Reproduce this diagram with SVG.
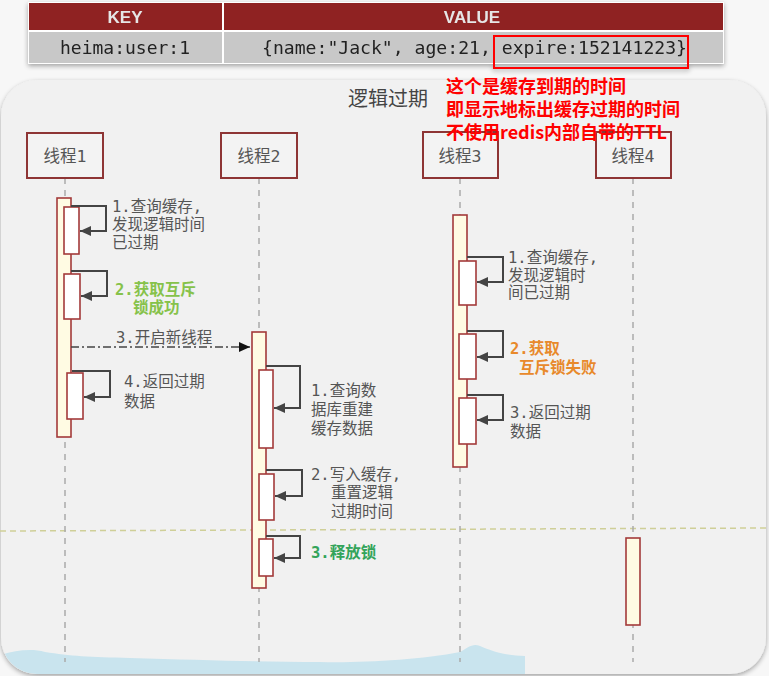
<svg xmlns="http://www.w3.org/2000/svg" width="769" height="676" viewBox="0 0 769 676">
  <defs>
    <style>
      .lbl { font-family: "DejaVu Sans Mono", "Noto Sans CJK SC", monospace; font-size: 15.5px; fill: #555; }
      .head { font-family: "DejaVu Sans Mono", "Noto Sans CJK SC", monospace; font-size: 16.5px; fill: #555; text-anchor: middle; }
      .cell { font-family: "DejaVu Sans Mono", monospace; font-size: 18px; fill: #222; }
      .th { font-family: "Liberation Sans", "DejaVu Sans", sans-serif; font-size: 17px; font-weight: bold; fill: #e6e6e6; text-anchor: middle; }
      .note { font-family: "Noto Sans CJK SC", sans-serif; font-size: 18px; font-weight: bold; fill: #ff0000; }
      .actor { fill: #f3f3f3; stroke: #8e3535; stroke-width: 2; }
      .life { stroke: #aaa; stroke-width: 1.5; stroke-dasharray: 6 6; fill: none; }
      .bar { fill: #fffbe3; stroke: #a33a3a; stroke-width: 1.6; }
      .box { fill: #ffffff; stroke: #a33a3a; stroke-width: 1.6; }
      .loop { fill: none; stroke: #444; stroke-width: 2; marker-end: url(#arr); }
      .green1 { fill: #86c24a; font-weight: bold; }
      .green2 { fill: #33a45a; font-weight: bold; }
      .orange { fill: #e8892b; font-weight: bold; }
    </style>
    <marker id="arr" markerUnits="userSpaceOnUse" markerWidth="12" markerHeight="10" refX="11" refY="5" orient="auto">
      <path d="M0,0 L11,5 L0,10 z" fill="#444"/>
    </marker>
    <marker id="arrB" markerUnits="userSpaceOnUse" markerWidth="12" markerHeight="10" refX="11" refY="5" orient="auto">
      <path d="M0,0 L11,5 L0,10 z" fill="#111"/>
    </marker>
    <clipPath id="panelClip">
      <rect x="1" y="80" width="765" height="594" rx="36"/>
    </clipPath>
    <filter id="shadow" x="-5%" y="-10%" width="110%" height="130%">
      <feGaussianBlur in="SourceAlpha" stdDeviation="2.5"/>
      <feOffset dx="0" dy="2" result="b"/>
      <feComponentTransfer><feFuncA type="linear" slope="0.35"/></feComponentTransfer>
      <feMerge><feMergeNode/><feMergeNode in="SourceGraphic"/></feMerge>
    </filter>
  </defs>

  <!-- page background -->
  <rect width="769" height="676" fill="#f7f7f7"/>

  <!-- key/value table -->
  <g id="table" filter="url(#shadow)">
    <rect x="28" y="2" width="696" height="62" fill="#ffffff"/>
    <rect x="29" y="3" width="193" height="27" fill="#8f2424"/>
    <rect x="224" y="3" width="499" height="27" fill="#8f2424"/>
    <rect x="29" y="32" width="193" height="31" fill="#c8c8c8"/>
    <rect x="224" y="32" width="499" height="31" fill="#c8c8c8"/>
    <text class="th" x="125" y="23">KEY</text>
    <text class="th" x="472" y="23">VALUE</text>
    <text class="cell" x="60" y="54">heima:user:1</text>
    <text class="cell" x="262" y="54" textLength="425" lengthAdjust="spacingAndGlyphs">{name:"Jack", age:21, expire:152141223}</text>
    <rect x="494" y="36" width="194" height="32" fill="none" stroke="#ff0000" stroke-width="2"/>
  </g>

  <!-- sequence panel -->
  <g id="panel">
    <rect x="1" y="80" width="765" height="594" rx="36" fill="#f1f1f1" filter="url(#shadow)"/>
    <g clip-path="url(#panelClip)">
      <path d="M0,655 C15,651 30,648 45,652 C70,656 90,657 130,658 C200,660 260,662 320,662 C360,663 420,660 460,652 C468,648 472,643 480,646 C490,650 500,655 525,656 L525,676 L0,676 z" fill="#c9e4ee"/>
    </g>
    <text x="348" y="106" font-family="Noto Sans CJK SC, sans-serif" font-size="20" fill="#444">逻辑过期</text>
    <!-- separator between phases -->
    <line x1="0" y1="531" x2="769" y2="528" stroke="#cfcf98" stroke-width="1.5" stroke-dasharray="6 4"/>
  </g>

  <!-- thread 1 -->
  <g id="thread1">
    <line class="life" x1="65" y1="178" x2="65" y2="662"/>
    <rect class="actor" x="27" y="133" width="76" height="45"/>
    <text class="head" x="65" y="162">线程1</text>
    <rect class="bar" x="57" y="198" width="14" height="239"/>
    <rect class="box" x="64" y="207" width="15" height="47"/>
    <rect class="box" x="64" y="274" width="16" height="45"/>
    <rect class="box" x="67" y="373" width="16" height="46"/>
  </g>

  <!-- thread 2 -->
  <g id="thread2">
    <line class="life" x1="259" y1="178" x2="259" y2="662"/>
    <rect class="actor" x="221" y="133" width="76" height="45"/>
    <text class="head" x="259" y="162">线程2</text>
    <rect class="bar" x="252" y="332" width="14" height="256"/>
    <rect class="box" x="259" y="370" width="14" height="78"/>
    <rect class="box" x="259" y="474" width="15" height="46"/>
    <rect class="box" x="259" y="539" width="14" height="37"/>
  </g>

  <!-- thread 3 -->
  <g id="thread3">
    <line class="life" x1="460" y1="178" x2="460" y2="662"/>
    <rect class="actor" x="423" y="132" width="75" height="46"/>
    <text class="head" x="460" y="162">线程3</text>
    <rect class="bar" x="453" y="215" width="14" height="252"/>
    <rect class="box" x="459" y="261" width="17" height="44"/>
    <rect class="box" x="459" y="334" width="17" height="45"/>
    <rect class="box" x="459" y="398" width="17" height="46"/>
  </g>

  <!-- thread 4 -->
  <g id="thread4">
    <line class="life" x1="633" y1="178" x2="633" y2="662"/>
    <rect class="actor" x="596" y="132" width="75" height="46"/>
    <text class="head" x="633" y="162">线程4</text>
    <rect class="bar" x="626" y="538" width="14" height="87"/>
  </g>

  <!-- connectors -->
  <g id="connectors">
    <path class="loop" d="M71,206 H106 V231 H80"/>
    <path class="loop" d="M71,271 H107 V296 H81"/>
    <path class="loop" d="M72,371 H110 V397 H84"/>
    <path d="M71,347 H250" fill="none" stroke="#444" stroke-width="1.4" stroke-dasharray="8 3 2 3" marker-end="url(#arrB)"/>
    <path class="loop" d="M266,366 H300 V408 H274"/>
    <path class="loop" d="M266,470 H302 V496 H275"/>
    <path class="loop" d="M266,536 H300 V558 H274"/>
    <path class="loop" d="M467,257 H503 V282 H477"/>
    <path class="loop" d="M467,331 H503 V357 H477"/>
    <path class="loop" d="M467,395 H503 V420 H477"/>
  </g>

  <!-- message labels -->
  <g id="labels">
    <text class="lbl" x="112" y="212">1.查询缓存,</text>
    <text class="lbl" x="112" y="230">发现逻辑时间</text>
    <text class="lbl" x="112" y="248">已过期</text>
    <text class="lbl green1" x="115" y="295">2.获取互斥</text>
    <text class="lbl green1" x="133" y="313">锁成功</text>
    <text class="lbl" x="116" y="343">3.开启新线程</text>
    <text class="lbl" x="124" y="387">4.返回过期</text>
    <text class="lbl" x="124" y="407">数据</text>

    <text class="lbl" x="311" y="396">1.查询数</text>
    <text class="lbl" x="311" y="415">据库重建</text>
    <text class="lbl" x="311" y="434">缓存数据</text>
    <text class="lbl" x="311" y="480">2.写入缓存,</text>
    <text class="lbl" x="331" y="498">重置逻辑</text>
    <text class="lbl" x="331" y="517">过期时间</text>
    <text class="lbl green2" x="311" y="558">3.释放锁</text>

    <text class="lbl" x="508" y="263">1.查询缓存,</text>
    <text class="lbl" x="508" y="281">发现逻辑时</text>
    <text class="lbl" x="508" y="298">间已过期</text>
    <text class="lbl orange" x="510" y="354">2.获取</text>
    <text class="lbl orange" x="519" y="373">互斥锁失败</text>
    <text class="lbl" x="510" y="418">3.返回过期</text>
    <text class="lbl" x="510" y="437">数据</text>
  </g>

  <!-- annotation -->
  <g id="annotation">
    <text class="note" x="446" y="93">这个是缓存到期的时间</text>
    <text class="note" x="446" y="116">即显示地标出缓存过期的时间</text>
    <text class="note" x="446" y="139">不使用redis内部自带的TTL</text>
  </g>
</svg>
